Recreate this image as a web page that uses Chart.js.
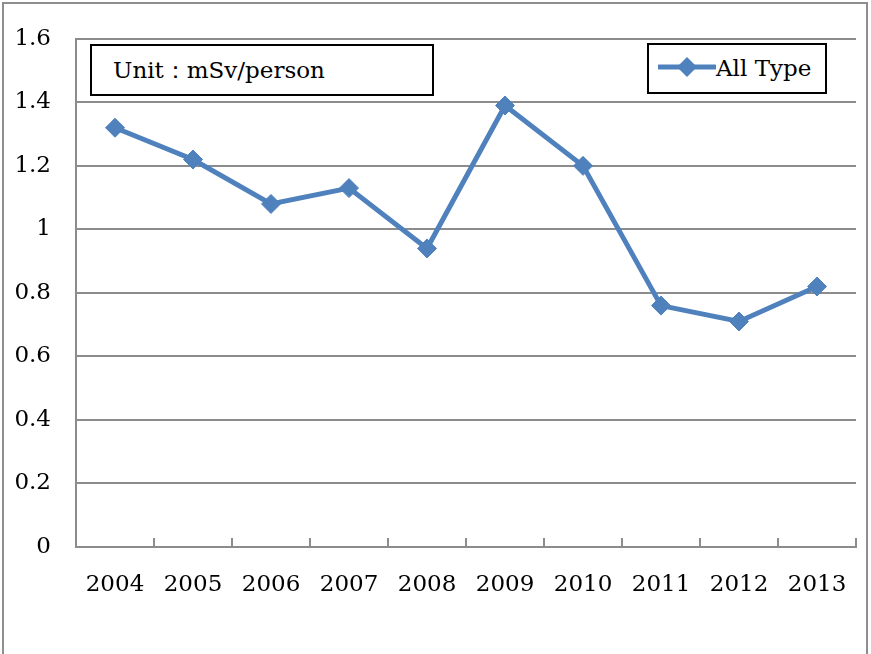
<!DOCTYPE html>
<html>
<head>
<meta charset="utf-8">
<script src="https://cdn.jsdelivr.net/npm/chart.js@4.4.1/dist/chart.umd.min.js"></script>
<style>
  html, body { margin: 0; padding: 0; background: #fff; overflow: hidden; }
  #wrap { position: relative; width: 871px; height: 654px; }
  #frame { position: absolute; left: 2px; top: 2px; width: 862px; height: 720px; border: 2px solid #8e8e8e; pointer-events: none; }
  .box { position: absolute; background: #fff; border: 2px solid #000; box-sizing: border-box;
         font-family: 'DejaVu Serif', serif; font-size: 23px; color: #000; white-space: nowrap; }
  #unit { left: 90px; top: 44px; width: 344px; height: 52px; padding-left: 21px; line-height: 48px; }
  #legend { left: 647px; top: 43px; width: 180px; height: 51px; padding-left: 9px; line-height: 47px; }
  #legend svg { vertical-align: middle; margin-right: 0px; position: relative; top: -3px; }
</style>
</head>
<body>
<div id="wrap">
  <canvas id="chart" width="871" height="654"></canvas>
  <div id="frame"></div>
  <div class="box" id="unit">Unit：mSv/person</div>
  <div class="box" id="legend"><svg width="58" height="22"><line x1="1" y1="11" x2="57" y2="11" stroke="#4F81BD" stroke-width="5" stroke-linecap="round"/><polygon points="29,1 39,11 29,21 19,11" fill="#4F81BD"/></svg><span id="legendText"></span></div>
</div>
<script>
// values
var years = ['2004', '2005', '2006', '2007', '2008', '2009', '2010', '2011', '2012', '2013'];
var allType = [1.32, 1.22, 1.08, 1.13, 0.94, 1.39, 1.20, 0.76, 0.71, 0.82];
var seriesName = 'All Type';

document.getElementById('legendText').textContent = seriesName;

// small tick marks between categories, pointing up into the plot
var innerTicks = {
    id: 'innerTicks',
    afterDatasetsDraw: function (chart) {
        var xs = chart.scales.x;
        var ctx = chart.ctx;
        var half = (xs.getPixelForValue(1) - xs.getPixelForValue(0)) / 2;
        var bottom = chart.chartArea.bottom;
        ctx.save();
        ctx.strokeStyle = '#8c8c8c';
        ctx.lineWidth = 2;
        ctx.beginPath();
        for (var i = 0; i <= years.length; i++) {
            var x = Math.round(xs.getPixelForValue(i) - half);
            ctx.moveTo(x, bottom);
            ctx.lineTo(x, bottom - 9);
        }
        ctx.stroke();
        ctx.restore();
    }
};

var ctx = document.getElementById('chart').getContext('2d');
var chart = new Chart(ctx, {
    type: 'line',
    data: {
        labels: years,
        datasets: [{
            label: seriesName,
            data: allType,
            borderColor: '#4F81BD',
            backgroundColor: '#4F81BD',
            borderWidth: 5,
            pointStyle: 'rectRot',
            pointRadius: 9.5,
            pointBorderWidth: 1,
            tension: 0
        }]
    },
    plugins: [innerTicks],
    options: {
        responsive: false,
        animation: false,
        events: [],
        layout: { padding: { top: 36, right: 14, left: 0, bottom: 0 } },
        plugins: {
            legend: { display: false },
            tooltip: { enabled: false }
        },
        scales: {
            x: {
                offset: true,
                afterFit: function (scale) { scale.height = 107; },
                grid: { display: false, drawTicks: false },
                border: { display: true, color: '#8c8c8c', width: 2 },
                ticks: {
                    color: '#000',
                    padding: 24,
                    maxRotation: 0,
                    font: { family: 'DejaVu Serif', size: 23 }
                }
            },
            y: {
                min: 0,
                max: 1.6,
                afterFit: function (scale) { scale.width = 76; },
                grid: { color: '#8c8c8c', lineWidth: 2, drawTicks: false },
                border: { display: true, color: '#8c8c8c', width: 2 },
                ticks: {
                    stepSize: 0.2,
                    color: '#000',
                    padding: 25,
                    font: { family: 'DejaVu Serif', size: 23 },
                    callback: function (v) { return String(Math.round(v * 10) / 10); }
                }
            }
        }
    }
});
</script>
</body>
</html>
